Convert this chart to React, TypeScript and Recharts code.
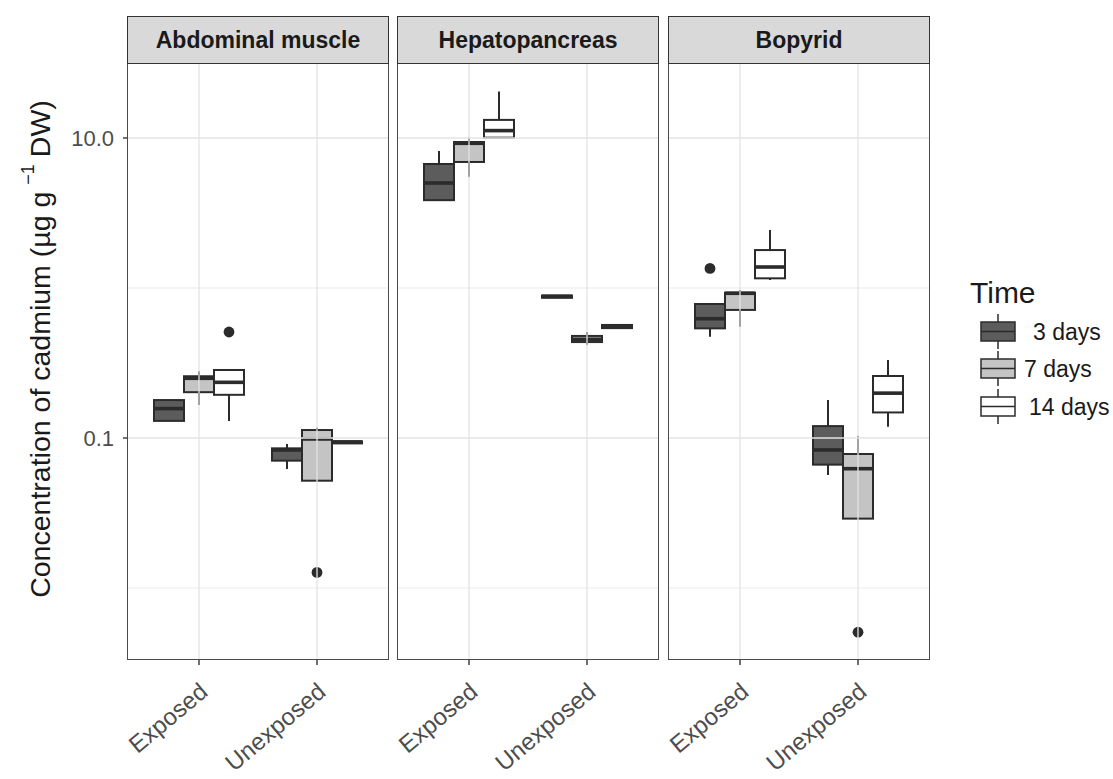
import { ComposedChart, Bar, XAxis, YAxis, ReferenceLine } from 'recharts';

const TISSUES = ['Abdominal muscle', 'Hepatopancreas', 'Bopyrid'];
const GROUPS = ['Exposed', 'Unexposed'];
const TIMES = ['3 days', '7 days', '14 days'];
const FILLS = ['#5c5c5c', '#c4c4c4', '#ffffff'];

// per time (3, 7, 14 days): [low whisker, q1, median, q3, high whisker]
const MUSCLE_EXPOSED = [
  [0.13, 0.13, 0.157, 0.179, 0.179],
  [0.166, 0.202, 0.25, 0.258, 0.279],
  [0.13, 0.194, 0.235, 0.284, 0.284],
];
const MUSCLE_UNEXPOSED = [
  [0.0621, 0.0706, 0.0832, 0.0853, 0.0912],
  [0.0519, 0.0519, 0.0985, 0.113, 0.117],
  [0.092, 0.092, 0.094, 0.095, 0.095],
];
const HEPATO_EXPOSED = [
  [3.85, 3.85, 5.01, 6.71, 8.19],
  [5.52, 6.92, 9.22, 9.4, 10.1],
  [10.05, 10.05, 11.2, 13.2, 20.4],
];
const HEPATO_UNEXPOSED = [
  [0.86, 0.86, 0.88, 0.89, 0.89],
  [0.419, 0.436, 0.455, 0.479, 0.509],
  [0.54, 0.54, 0.556, 0.567, 0.567],
];
const BOPYRID_EXPOSED = [
  [0.473, 0.538, 0.624, 0.782, 0.782],
  [0.552, 0.714, 0.922, 0.931, 0.97],
  [1.13, 1.16, 1.38, 1.79, 2.44],
];
const BOPYRID_UNEXPOSED = [
  [0.0567, 0.0664, 0.0832, 0.12, 0.179],
  [0.029, 0.029, 0.0624, 0.0782, 0.103],
  [0.119, 0.148, 0.199, 0.259, 0.331],
];

// outliers per time, null when there is none
const MUSCLE_EXPOSED_OUT = [null, null, 0.509];
const MUSCLE_UNEXPOSED_OUT = [null, 0.0127, null];
const HEPATO_EXPOSED_OUT = [null, null, null];
const HEPATO_UNEXPOSED_OUT = [null, null, null];
const BOPYRID_EXPOSED_OUT = [1.35, null, null];
const BOPYRID_UNEXPOSED_OUT = [null, 0.00507, null];

const Y_TICKS = [0.1, 10];
const Y_DOMAIN = [0.00331, 31.62];

const PANELS = [
  { stats: [MUSCLE_EXPOSED, MUSCLE_UNEXPOSED], out: [MUSCLE_EXPOSED_OUT, MUSCLE_UNEXPOSED_OUT] },
  { stats: [HEPATO_EXPOSED, HEPATO_UNEXPOSED], out: [HEPATO_EXPOSED_OUT, HEPATO_UNEXPOSED_OUT] },
  { stats: [BOPYRID_EXPOSED, BOPYRID_UNEXPOSED], out: [BOPYRID_EXPOSED_OUT, BOPYRID_UNEXPOSED_OUT] },
];

const PANEL_LEFT = [128, 398, 669];
const PANEL_W = 260;
const PLOT_TOP = 63;
const PLOT_H = 597;
const X_AXIS_H = 116;
const Y_AXIS_W = 70;
const BOX_W = 30;
const INK = '#2b2b2b';
const GRID = '#e4e4e4';

const WhiskerShape = (props: any) => {
  const { x, y, width, height } = props;
  if (!Number.isFinite(y)) return <g />;
  const cx = x + width / 2;
  return <line x1={cx} x2={cx} y1={y} y2={y + height} stroke={INK} strokeWidth={2} />;
};

const BoxShape = (props: any) => {
  const { x, y, width, height, fill } = props;
  if (!Number.isFinite(y)) return <g />;
  return <rect x={x} y={y} width={width} height={Math.max(height, 1)} fill={fill} stroke={INK} strokeWidth={2} />;
};

const MedianShape = (props: any) => {
  const { x, y, width } = props;
  if (!Number.isFinite(y)) return <g />;
  return <line x1={x} x2={x + width} y1={y} y2={y} stroke={INK} strokeWidth={3.6} />;
};

const OutlierShape = (props: any) => {
  const { x, y, width } = props;
  if (!Number.isFinite(y)) return <g />;
  return <circle cx={x + width / 2} cy={y} r={5.4} fill={INK} />;
};

const XTick = (props: any) => {
  const { x, y, payload } = props;
  return (
    <text
      transform={`translate(${x - 1},${y + 14}) rotate(-40)`}
      textAnchor="end"
      dy="0.72em"
      fill="#4d4d4d"
      fontSize={24}
    >
      {payload.value}
    </text>
  );
};

const LAYERS = ['whisker', 'box', 'median', 'outlier'];

function Panel({ index }: { index: number }) {
  const p = PANELS[index];
  const rows = GROUPS.map((g, gi) => ({ group: g, stats: p.stats[gi], out: p.out[gi] }));
  const showY = index === 0;
  const yw = showY ? Y_AXIS_W : 0;

  return (
    <div style={{ position: 'absolute', left: PANEL_LEFT[index] - yw, top: PLOT_TOP }}>
      <ComposedChart
        width={PANEL_W + yw}
        height={PLOT_H + X_AXIS_H}
        data={rows}
        margin={{ top: 0, right: 0, bottom: 0, left: 0 }}
        barGap={0}
      >
        {LAYERS.map((id) => (
          <XAxis
            key={id}
            xAxisId={id}
            dataKey="group"
            type="category"
            padding={{ left: 12, right: 12 }}
            hide={id !== 'box'}
            height={X_AXIS_H}
            axisLine={false}
            tickSize={5}
            tickLine={{ stroke: '#333', strokeWidth: 1.4 }}
            tick={<XTick />}
            interval={0}
          />
        ))}
        <YAxis
          scale="log"
          domain={Y_DOMAIN}
          allowDataOverflow
          ticks={Y_TICKS}
          tickFormatter={(v: number) => (v >= 10 ? v.toFixed(1) : String(v))}
          hide={!showY}
          width={Y_AXIS_W}
          axisLine={false}
          tickSize={5}
          tickMargin={9}
          tickLine={{ stroke: '#333', strokeWidth: 1.4 }}
          tick={{ fill: '#4d4d4d', fontSize: 22 }}
        />
        {[0.01, 1].map((v) => (
          <ReferenceLine key={`mn-${v}`} xAxisId="box" y={v} stroke={GRID} strokeWidth={0.8} />
        ))}
        {Y_TICKS.map((v) => (
          <ReferenceLine key={`mj-${v}`} xAxisId="box" y={v} stroke={GRID} strokeWidth={1.3} />
        ))}
        {GROUPS.map((g) => (
          <ReferenceLine key={`v-${g}`} xAxisId="box" x={g} stroke={GRID} strokeWidth={1.3} />
        ))}
        {TIMES.map((t, ti) => (
          <Bar
            key={`w-${t}`}
            xAxisId="whisker"
            dataKey={(r: any) => [r.stats[ti][0], r.stats[ti][4]]}
            barSize={BOX_W}
            shape={WhiskerShape}
            isAnimationActive={false}
          />
        ))}
        {TIMES.map((t, ti) => (
          <Bar
            key={`b-${t}`}
            xAxisId="box"
            name={t}
            dataKey={(r: any) => [r.stats[ti][1], r.stats[ti][3]]}
            fill={FILLS[ti]}
            barSize={BOX_W}
            shape={BoxShape}
            isAnimationActive={false}
          />
        ))}
        {TIMES.map((t, ti) => (
          <Bar
            key={`m-${t}`}
            xAxisId="median"
            dataKey={(r: any) => [r.stats[ti][2], r.stats[ti][2]]}
            barSize={BOX_W}
            shape={MedianShape}
            isAnimationActive={false}
          />
        ))}
        {TIMES.map((t, ti) => (
          <Bar
            key={`o-${t}`}
            xAxisId="outlier"
            dataKey={(r: any) => (r.out[ti] == null ? null : [r.out[ti], r.out[ti]])}
            barSize={BOX_W}
            shape={OutlierShape}
            isAnimationActive={false}
          />
        ))}
      </ComposedChart>
      <div
        style={{
          position: 'absolute',
          left: yw - 1,
          top: -1,
          width: PANEL_W + 2,
          height: PLOT_H + 1,
          border: '1.5px solid #4a4a4a',
          boxSizing: 'border-box',
          pointerEvents: 'none',
        }}
      />
    </div>
  );
}

function Strip({ index }: { index: number }) {
  return (
    <div
      style={{
        position: 'absolute',
        left: PANEL_LEFT[index] - 1,
        top: 16,
        width: PANEL_W + 2,
        height: 48,
        background: '#d9d9d9',
        border: '1.5px solid #333',
        boxSizing: 'border-box',
        display: 'flex',
        alignItems: 'center',
        justifyContent: 'center',
        fontWeight: 'bold',
        fontSize: 23,
        color: '#1a1a1a',
      }}
    >
      {TISSUES[index]}
    </div>
  );
}

const LEGEND_KEY_Y = [322, 359, 397];
const LEGEND_LABEL_X = [73, 64, 69];

function TimeLegend() {
  return (
    <svg style={{ position: 'absolute', left: 960, top: 270 }} width={153} height={180}>
      <text x={10} y={33} fontSize={30} fill="#1a1a1a">
        Time
      </text>
      {TIMES.map((t, i) => {
        const top = LEGEND_KEY_Y[i] - 270;
        const h = 19;
        return (
          <g key={t}>
            <line x1={38} x2={38} y1={top - 8} y2={top + h + 8} stroke={INK} strokeWidth={1.5} />
            <rect x={21} y={top} width={34} height={h} fill={FILLS[i]} stroke={INK} strokeWidth={1.5} />
            <line x1={21} x2={55} y1={top + h / 2} y2={top + h / 2} stroke={INK} strokeWidth={1.5} />
            <text x={LEGEND_LABEL_X[i]} y={top + h / 2} dy="0.36em" fontSize={23} fill="#1a1a1a">
              {t}
            </text>
          </g>
        );
      })}
    </svg>
  );
}

export default function App() {
  return (
    <div
      style={{
        position: 'absolute',
        left: 0,
        top: 0,
        width: 1113,
        height: 779,
        background: '#fff',
        overflow: 'hidden',
        fontFamily: '"Liberation Sans", Arial, sans-serif',
      }}
    >
      <style>{'.recharts-surface { overflow: visible; }'}</style>
      <svg style={{ position: 'absolute', left: 0, top: 0 }} width={80} height={779}>
        <text
          transform="translate(40,349) rotate(-90)"
          textAnchor="middle"
          dominantBaseline="central"
          fontSize={28.5}
          fill="#1a1a1a"
        >
          Concentration of cadmium (µg g
          <tspan dx={7} dy={-12} fontSize={18}>−1</tspan>
          <tspan dx={7} dy={12}>DW)</tspan>
        </text>
      </svg>
      {TISSUES.map((t, i) => (
        <Panel key={t} index={i} />
      ))}
      {TISSUES.map((t, i) => (
        <Strip key={`s-${t}`} index={i} />
      ))}
      <TimeLegend />
    </div>
  );
}
